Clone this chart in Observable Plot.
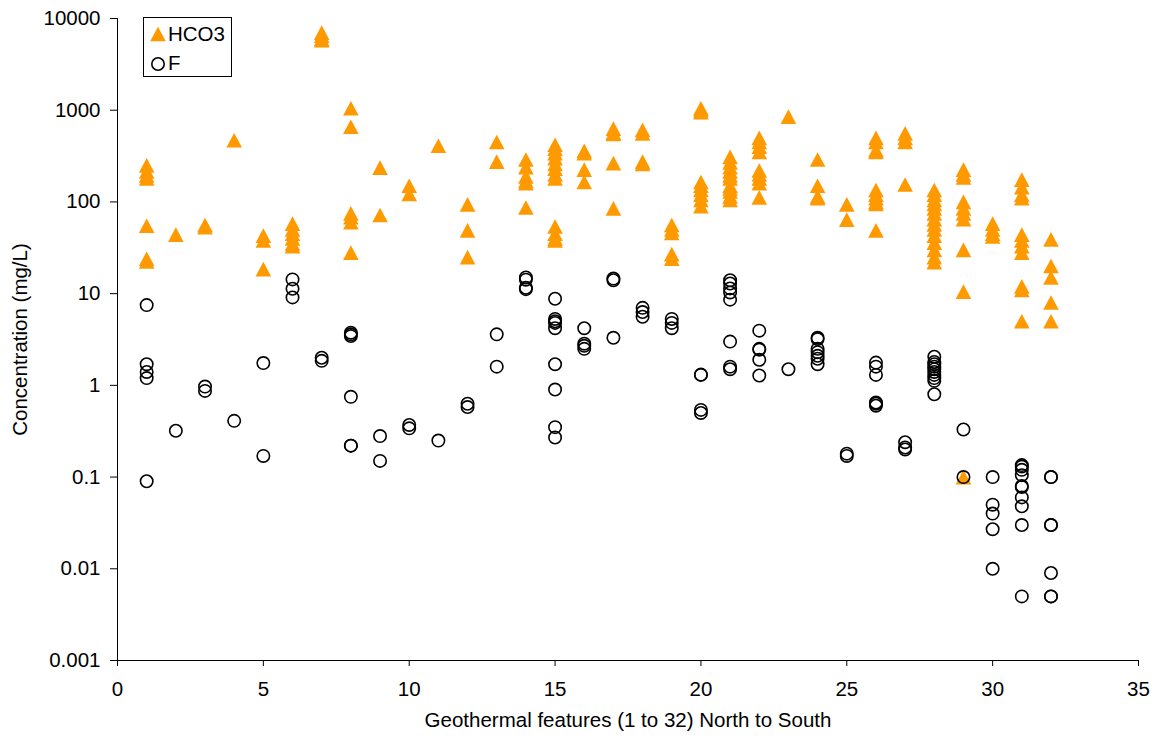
<!DOCTYPE html>
<html>
<head>
<meta charset="utf-8">
<script src="https://cdn.jsdelivr.net/npm/d3@7"></script>
<script src="https://cdn.jsdelivr.net/npm/@observablehq/plot@0.6"></script>
<style>
  html, body { margin: 0; padding: 0; background: #fff; }
  #wrap { position: relative; width: 1158px; height: 742px; font-family: "Liberation Sans", Arial, sans-serif; }
  #legend { position: absolute; left: 143px; top: 17px; width: 89px; height: 60px; border: 1px solid #000; background: #fff; box-sizing: border-box; }
  #legend svg { position: absolute; left: 0; top: 0; }
</style>
</head>
<body>
<div id="wrap"></div>
<script>
// ---- Data ----
const features = d3.range(1, 33);
const hco3ByFeature = [
  [250, 215, 195, 180, 55, 24, 22.5],
  [44],
  [56, 53],
  [470],
  [43, 38, 18.5],
  [58, 50, 45, 40, 35, 33],
  [7000, 6500, 6000, 5800],
  [1050, 660, 75, 68, 60, 28],
  [237, 72],
  [150, 122],
  [410],
  [94, 49, 25],
  [450, 275],
  [290, 240, 190, 170, 160, 87],
  [420, 380, 340, 300, 260, 230, 200, 180, 54, 45, 40, 38],
  [360, 340, 225, 165],
  [630, 570, 550, 265, 85],
  [610, 560, 275, 260],
  [56, 50, 46, 27, 24],
  [1050, 1000, 950, 165, 150, 135, 120, 105, 90],
  [310, 270, 240, 215, 195, 180, 150, 140, 130, 115, 105],
  [500, 450, 400, 350, 220, 200, 180, 160, 112],
  [850],
  [290, 150, 115, 110],
  [94, 64],
  [500, 450, 370, 350, 135, 120, 110, 100, 95, 49],
  [560, 500, 450, 155],
  [135, 120, 105, 95, 85, 75, 65, 57, 50, 43, 36, 30, 25, 22],
  [225, 200, 185, 100, 85, 75, 65, 30, 10.5, 0.1],
  [58, 50, 45, 42],
  [175, 145, 120, 110, 44, 38, 33, 28, 12, 11, 5],
  [39, 20, 15, 8, 5]
];
const fByFeature = [
  [7.5, 1.7, 1.4, 1.2, 0.09],
  [0.32],
  [0.97, 0.87],
  [0.41],
  [1.75, 0.17],
  [14.3, 11.3, 9.1],
  [2.0, 1.85],
  [3.75, 3.6, 3.45, 0.75, 0.22, 0.22],
  [0.28, 0.15],
  [0.37, 0.34],
  [0.25],
  [0.63, 0.58],
  [3.6, 1.6],
  [15, 14.2, 11.6, 11.2],
  [8.8, 5.3, 5.0, 4.8, 4.2, 1.7, 0.9, 0.35, 0.27],
  [4.2, 2.85, 2.7, 2.5],
  [14.6, 14.0, 3.3],
  [7.0, 6.3, 5.6],
  [5.3, 4.8, 4.2],
  [1.31, 1.3, 0.54, 0.5],
  [14, 12.9, 11.4, 10.3, 8.6, 3.0, 1.6, 1.5],
  [3.95, 2.5, 2.45, 1.9, 1.28],
  [1.5],
  [3.3, 3.2, 2.5, 2.3, 2.1, 1.95, 1.7],
  [0.18, 0.17],
  [1.77, 1.6, 1.3, 0.65, 0.63, 0.6],
  [0.24, 0.21, 0.2],
  [2.05, 1.8, 1.7, 1.6, 1.5, 1.4, 1.3, 1.2, 1.12, 0.8],
  [0.33, 0.1],
  [0.1, 0.05, 0.04, 0.027, 0.01],
  [0.135, 0.13, 0.12, 0.105, 0.08, 0.078, 0.06, 0.048, 0.03, 0.005],
  [0.1, 0.1, 0.03, 0.03, 0.009, 0.005, 0.005]
];
const yTicks = [0.001, 0.01, 0.1, 1, 10, 100, 1000, 10000];
const yTickLabels = ["0.001", "0.01", "0.1", "1", "10", "100", "1000", "10000"];
const xTicks = [0, 5, 10, 15, 20, 25, 30, 35];
const seriesNames = ["HCO3", "F"];
const xTitle = "Geothermal features (1 to 32) North to South";
const yTitle = "Concentration (mg/L)";
const orange = "#FF9900";

// ---- Build tables ----
const hco3 = features.flatMap((f, i) => hco3ByFeature[i].map(v => ({feature: f, value: v})));
const fl = features.flatMap((f, i) => fByFeature[i].map(v => ({feature: f, value: v})));

// Excel-like triangle (bbox-centred, a bit taller than equilateral)
const tri = {
  draw(ctx, size) {
    const r = Math.sqrt(size / Math.PI);
    const h = r * 0.94;
    ctx.moveTo(0, -h);
    ctx.lineTo(r, h);
    ctx.lineTo(-r, h);
    ctx.closePath();
  }
};

const fontSize = "20.5px";
const chart = Plot.plot({
  width: 1158,
  height: 742,
  marginLeft: 117,
  marginRight: 20,
  marginTop: 18,
  marginBottom: 82,
  style: {fontFamily: '"Liberation Sans", Arial, sans-serif', fontSize, color: "#000", background: "#fff", overflow: "visible"},
  x: {domain: [0, 35]},
  y: {type: "log", domain: [0.001, 10000]},
  marks: [
    Plot.axisX({ticks: xTicks, tickSize: 6, tickPadding: 15, label: null, stroke: "#000", strokeOpacity: 1, fontSize}),
    Plot.axisY({ticks: yTicks, tickFormat: d => yTickLabels[yTicks.indexOf(d)], tickSize: 7, tickPadding: 10, label: null, stroke: "#000", strokeOpacity: 1, fontSize}),
    Plot.ruleX([0], {stroke: "#000", strokeWidth: 1}),
    Plot.ruleY([0.001], {stroke: "#000", strokeWidth: 1}),
    Plot.dot(hco3, {x: "feature", y: "value", symbol: tri, r: 7.8, fill: orange, stroke: "none"}),
    Plot.dot(fl, {x: "feature", y: "value", symbol: "circle", r: 6.2, fill: "none", stroke: "#000", strokeWidth: 1.6}),
    Plot.text([xTitle], {frameAnchor: "bottom", dy: 66, textAnchor: "middle", fontSize}),
    Plot.text([yTitle], {frameAnchor: "left", dx: -97, rotate: -90, textAnchor: "middle", fontSize})
  ]
});
document.getElementById("wrap").appendChild(chart);

// ---- Legend ----
const legend = document.createElement("div");
legend.id = "legend";
const lsvg = d3.create("svg").attr("width", 89).attr("height", 60)
  .style("font-family", '"Liberation Sans", Arial, sans-serif').style("font-size", fontSize);
lsvg.append("path").attr("transform", "translate(14,16)").attr("d", d3.symbol(tri, Math.PI * 7.8 * 7.8)()).attr("fill", orange);
lsvg.append("circle").attr("cx", 14).attr("cy", 46).attr("r", 6.2).attr("fill", "none").attr("stroke", "#000").attr("stroke-width", 1.6);
lsvg.append("text").attr("x", 24).attr("y", 16).attr("dy", "0.35em").text(seriesNames[0]);
lsvg.append("text").attr("x", 24).attr("y", 45).attr("dy", "0.35em").text(seriesNames[1]);
legend.appendChild(lsvg.node());
document.getElementById("wrap").appendChild(legend);
</script>
</body>
</html>
